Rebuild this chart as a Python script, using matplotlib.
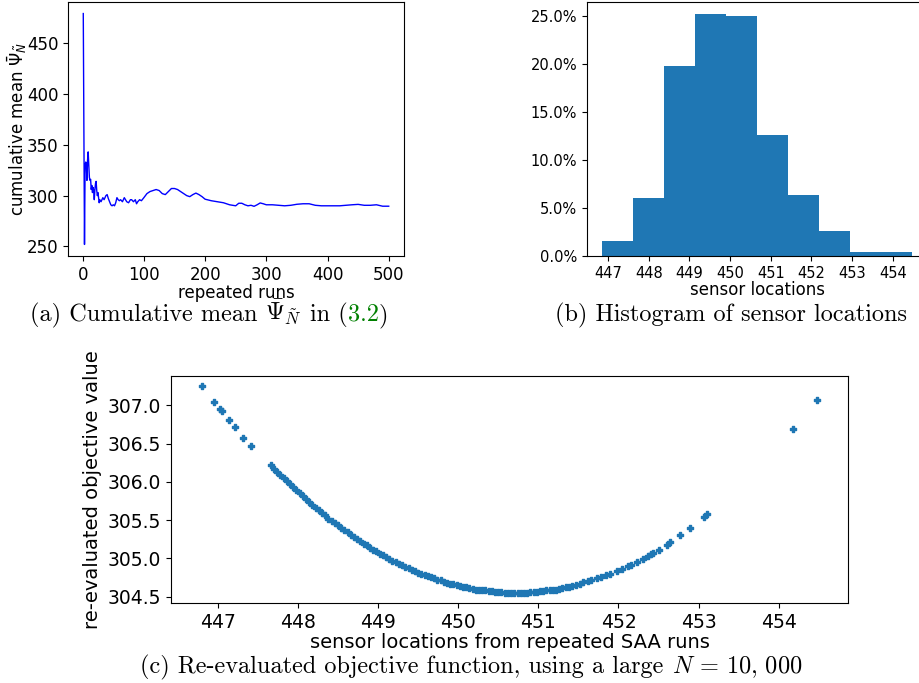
import matplotlib
matplotlib.use("Agg")
import matplotlib.pyplot as plt
from matplotlib.ticker import PercentFormatter
import numpy as np

# (a) cumulative mean of the objective over repeated SAA runs
runs = [1, 2, 3, 4, 5, 6, 7, 8, 9, 10, 11, 12, 13, 14, 15, 16, 17, 18, 19, 20,
        21, 22, 23, 24, 25, 26, 27, 28, 30, 33, 35, 38, 40, 42, 44, 46, 48, 50,
        52, 54, 56, 58, 60, 62, 65, 68, 70, 72, 75, 78, 80, 83, 86, 88, 90, 93,
        96, 100, 105, 110, 115, 120, 125, 130, 135, 140, 145, 150, 155, 160,
        165, 170, 175, 180, 185, 190, 195, 200, 210, 220, 230, 240, 245, 250,
        255, 260, 265, 270, 275, 280, 285, 290, 295, 300, 310, 320, 330, 340,
        350, 360, 370, 380, 390, 400, 420, 440, 450, 460, 470, 480, 490, 500]
cum_mean = [479, 365, 252, 330, 333, 330, 315, 335, 343, 330, 318, 315, 316,
            306, 310, 303, 308, 305, 296, 306, 312, 314, 305, 300, 303, 298,
            293, 296, 294, 298, 296, 300, 301, 297, 294, 291, 290, 291, 290,
            293, 298, 296, 295, 296, 294, 298, 296, 294, 293, 296, 296, 294,
            296, 292, 294, 296, 295, 298, 302, 304, 305, 306, 305, 302, 301,
            304, 307, 307, 306, 304, 302, 300, 299, 301, 302.5, 301, 299,
            296.5, 295, 294, 293, 291, 290.5, 290, 292.5, 292.5, 291, 290,
            290.5, 289.5, 291, 292.8, 292, 291, 291, 290.5, 290, 290.5, 291.5,
            292, 292, 290.5, 290, 290, 290, 291, 291.4, 290.5, 290.5, 291,
            289.6, 289.6]

# (b) histogram of sensor locations: bin edges and share of runs in percent
bin_edges = [446.86, 447.62, 448.38, 449.14, 449.90, 450.66, 451.42, 452.18,
             452.94, 453.70, 454.46]
bin_pct = [1.6, 6.0, 19.8, 25.2, 25.0, 12.6, 6.4, 2.6, 0.4, 0.4]

# (c) re-evaluated objective value vs sensor location
loc_x = [446.80, 446.95, 447.025, 447.05, 447.14, 447.21, 447.32, 447.41,
         447.66, 447.70, 447.74, 447.78, 447.82, 447.86, 447.90, 447.94,
         447.98, 448.02, 448.06, 448.10, 448.14, 448.18, 448.22, 448.26,
         448.30, 448.34, 448.38, 448.42, 448.46, 448.50, 448.54, 448.58,
         448.62, 448.66, 448.70, 448.74, 448.78, 448.82, 448.86, 448.90,
         448.94, 448.98, 449.02, 449.06, 449.10, 449.14, 449.18, 449.22,
         449.26, 449.30, 449.34, 449.38, 449.42, 449.46, 449.50, 449.54,
         449.58, 449.62, 449.66, 449.70, 449.74, 449.78, 449.82, 449.86,
         449.90, 449.94, 449.98, 450.02, 450.06, 450.10, 450.14, 450.18,
         450.22, 450.26, 450.30, 450.34, 450.38, 450.42, 450.46, 450.50,
         450.54, 450.58, 450.62, 450.66, 450.70, 450.74, 450.78, 450.82,
         450.86, 450.90, 450.94, 450.98, 451.02, 451.06, 451.10, 451.14,
         451.18, 451.22, 451.26, 451.30, 451.34, 451.38, 451.42,
         451.47, 451.52, 451.56, 451.62, 451.66, 451.73, 451.78, 451.85,
         451.90, 451.98, 452.05, 452.12, 452.16, 452.23, 452.30, 452.37,
         452.40, 452.43, 452.50, 452.60, 452.64, 452.77, 452.89, 453.07,
         453.11, 454.18, 454.48]
obj_val = [307.25, 307.04, 306.95, 306.93, 306.81, 306.72, 306.58, 306.47,
           306.22, 306.17, 306.13, 306.09, 306.05, 306.01, 305.97, 305.93,
           305.89, 305.85, 305.81, 305.77, 305.73, 305.70, 305.66, 305.63,
           305.59, 305.56, 305.52, 305.49, 305.46, 305.43, 305.40, 305.37,
           305.34, 305.31, 305.28, 305.25, 305.22, 305.19, 305.17, 305.14,
           305.11, 305.09, 305.06, 305.04, 305.02, 304.99, 304.97, 304.95,
           304.93, 304.91, 304.89, 304.87, 304.85, 304.83, 304.81, 304.80,
           304.78, 304.77, 304.75, 304.74, 304.72, 304.71, 304.69, 304.68,
           304.67, 304.66, 304.65, 304.64, 304.63, 304.62, 304.61, 304.60,
           304.59, 304.59, 304.58, 304.58, 304.57, 304.57, 304.56, 304.56,
           304.56, 304.55, 304.55, 304.55, 304.55, 304.55, 304.55, 304.55,
           304.55, 304.56, 304.56, 304.56, 304.57, 304.57, 304.58, 304.58,
           304.59, 304.59, 304.60, 304.61, 304.62, 304.63, 304.64,
           304.65, 304.67, 304.69, 304.70, 304.71, 304.74, 304.75, 304.78,
           304.80, 304.83, 304.86, 304.90, 304.91, 304.95, 304.99, 305.03,
           305.05, 305.07, 305.11, 305.18, 305.21, 305.30, 305.39, 305.54,
           305.58, 306.69, 307.07]

W, H = 920, 683
fig = plt.figure(figsize=(W / 100, H / 100), dpi=100)
fig.patch.set_facecolor("white")

def box(left, top, right, bottom):
    return [left / W, 1 - bottom / H, (right - left) / W, (bottom - top) / H]

# panel (a)
ax_a = fig.add_axes(box(68, 2, 404, 256))
ax_a.plot(runs, cum_mean, color="blue", lw=1)
ax_a.set_xlabel("repeated runs", fontsize=12, labelpad=0)
ax_a.set_ylabel(r"cumulative mean $\bar{\Psi}_{\tilde{N}}$", fontsize=12,
                labelpad=-2)
ax_a.tick_params(labelsize=12)

# panel (b)
ax_b = fig.add_axes(box(587, 2, 927, 256))
ax_b.bar(bin_edges[:-1], bin_pct, width=np.diff(bin_edges), align="edge",
         color="#1f77b4")
ax_b.yaxis.set_major_formatter(PercentFormatter(xmax=100, decimals=1))
ax_b.set_xticks(range(447, 455))
ax_b.set_xlabel("sensor locations", fontsize=12, labelpad=0)
ax_b.tick_params(labelsize=10.5)

# panel (c)
ax_c = fig.add_axes(box(171, 376, 848, 603))
ax_c.scatter(loc_x, obj_val, marker="P", s=24, color="#1f77b4")
ax_c.set_xlabel("sensor locations from repeated SAA runs", fontsize=14,
                labelpad=1)
ax_c.set_ylabel("re-evaluated objective value", fontsize=14)
ax_c.tick_params(labelsize=13.5)

# captions in a LaTeX look; pieces placed one after the other,
# each piece carries the gap (in em) that goes before it
CAP = 17.5

def caption(xc, yc, pieces, size=CAP):
    em = size * 100 / 72
    texts, gaps = [], []
    for s, c, g in pieces:
        texts.append(fig.text(0, 1 - yc / H, s, color=c, fontsize=size,
                              family="cmr10", math_fontfamily="cm",
                              ha="left", va="baseline"))
        gaps.append(g * em)
    fig.canvas.draw()
    r = fig.canvas.get_renderer()
    widths = [t.get_window_extent(r).width for t in texts]
    x = xc - (sum(widths) + sum(gaps)) / 2
    for t, w, g in zip(texts, widths, gaps):
        x += g
        t.set_x(x / W)
        x += w

caption(209, 321, [("(a) Cumulative mean", "black", 0),
                   (r"$\bar{\Psi}_{\tilde{N}}$", "black", 0.333),
                   ("in (", "black", 0.333),
                   ("3.2", "green", 0.0),
                   (")", "black", 0.0)])
caption(731, 321, [("(b) Histogram of sensor locations", "black", 0)])
caption(471, 673, [("(c) Re-evaluated objective function, using a large", "black", 0),
                   (r"$N\,=\,10,\,000$", "black", 0.333)])

fig.savefig("out.png", dpi=100)
